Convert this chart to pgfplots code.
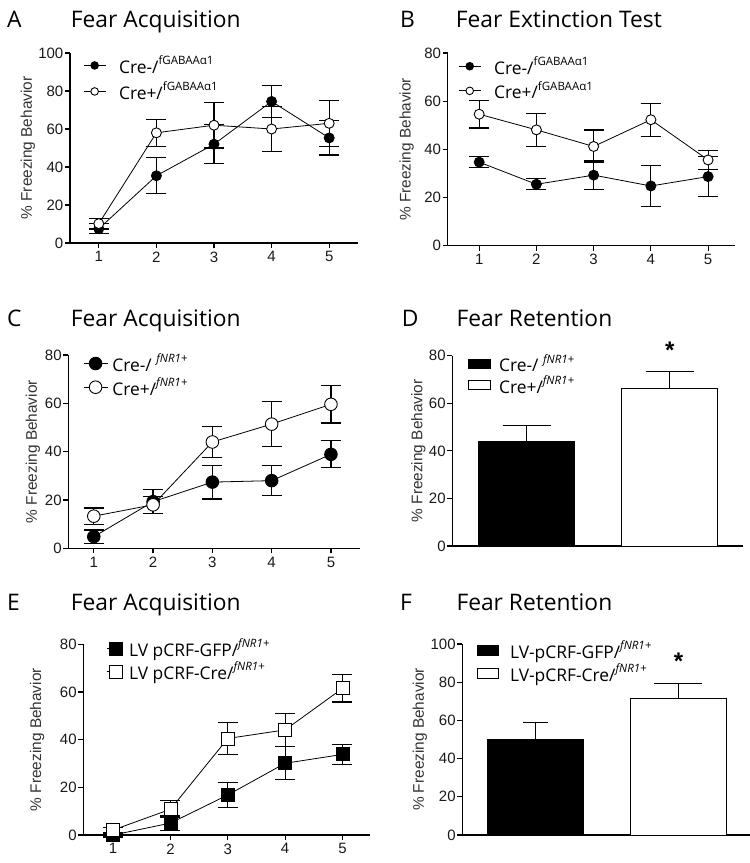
\documentclass[border=0pt]{standalone}
\usepackage{pgfplots}
\usepackage{pgfplotstable}
\pgfplotsset{compat=1.18}
\usepackage{fontspec}
\setmainfont{Liberation Sans}
\newfontfamily\osans{Open Sans}
\newcommand{\supx}[1]{\raisebox{0.5em}{\fontsize{11.5}{12}\selectfont #1}}
\newcommand{\legfont}{\osans\fontsize{17.4}{20}\selectfont}
\newcommand{\titfont}{\osans\fontsize{22.8}{26}\selectfont}

% data: x  mean  sem
\pgfplotstableread{
x y e
1 7.5 2.6
2 35.4 9.5
3 52 10.2
4 74.5 8.3
5 55.3 9
}\Aneg
\pgfplotstableread{
x y e
1 10.2 2.8
2 58 7.2
3 62 12
4 60 12
5 63 12
}\Apos
\pgfplotstableread{
x y e
1 34.7 2.3
2 25.5 2.3
3 29.3 5.9
4 24.8 8.4
5 28.7 8.3
}\Bneg
\pgfplotstableread{
x y e
1 54.6 5.7
2 48.1 6.9
3 41.2 6.8
4 52.3 6.9
5 35.6 3.9
}\Bpos
\pgfplotstableread{
x y e
1 4.8 2.8
2 19.3 5
3 27.4 7
4 28 6.2
5 38.9 5.6
}\Cneg
\pgfplotstableread{
x y e
1 13.3 3.4
2 18 3.5
3 44 6.5
4 51.4 9.3
5 59.6 7.7
}\Cpos
\pgfplotstableread{
x y e
1 0 0.8
2 5 3
3 16.8 5.1
4 30.1 6.9
5 33.8 4.2
}\Egfp
\pgfplotstableread{
x y e
1 2.1 1.2
2 10.8 3.6
3 40.5 6.6
4 44.1 7
5 61.5 5.7
}\Ecre

\pgfplotsset{
  gp/.style={
    scale only axis, anchor=south west,
    axis lines*=left,
    axis line style={line width=1.2pt},
    every tick/.style={line width=1.2pt, black},
    tick align=outside, major tick length=5pt,
    ymin=0, clip=false,
    ylabel={\% Freezing Behavior},
    ylabel style={font=\fontsize{15.4}{16}\selectfont, text=black!80, anchor=center},
    tick label style={font=\fontsize{15}{16}\selectfont, text=black!90},
    yticklabel style={inner sep=1.5pt},
    /pgf/number format/assume math mode=true,
    minor tick num=0,
    legend style={draw=none, fill=none, inner sep=0pt, outer sep=0pt, anchor=north west, font=\legfont},
    legend cell align=left,
  },
  legsep/.style 2 args={legend style={row sep=#1, /tikz/every odd column/.append style={column sep=#2}}},
  lineleg/.style n args={3}{legend image code/.code={\draw[line width=0.8pt,black] (0pt,0pt) -- (#1,0pt); \draw[##1, mark size=#2] plot coordinates {(#3,0pt)};}},
  lineax/.style={gp, xtick={1,2,3,4,5}},
  barax/.style={gp, xtick=\empty},
  barleg/.style 2 args={legend image code/.code={\draw[##1, line width=0.8pt] (0pt,-#2) rectangle (#1,#2);}},
  eb/.style={forget plot, only marks, mark=none,
    error bars/y dir=both, error bars/y explicit,
    error bars/error bar style={line width=1.2pt, draw=black, solid},
    error bars/error mark options={rotate=90, mark size=10pt, line width=1.2pt, draw=black}},
  ser/.style={line width=0.8pt, black, mark=*, mark size=5pt, mark options={solid, fill=#1, line width=0.9pt}},
  sqser/.style={ser=#1, mark=square*, mark size=6.5pt},
  barser/.style 2 args={ybar, bar width=96pt, bar shift=0pt, fill=#1, draw=black, line width=1pt,
    error bars/y dir=plus, error bars/y explicit,
    error bars/error bar style={line width=1.2pt, black},
    error bars/error mark options={rotate=90, mark size=#2, line width=1.2pt, black}},
}
\begin{document}
\begin{tikzpicture}
\path[use as bounding box] (0pt,0pt) rectangle (750pt,-863pt);
% titles
\node[anchor=base west, inner sep=0pt, font=\titfont] at (7pt,-27pt) {A};
\node[anchor=base west, inner sep=0pt, font=\titfont] at (70.7pt,-27pt) {Fear Acquisition};
\node[anchor=base west, inner sep=0pt, font=\titfont] at (400pt,-27pt) {B};
\node[anchor=base west, inner sep=0pt, font=\titfont] at (455.7pt,-27pt) {Fear Extinction Test};
\node[anchor=base west, inner sep=0pt, font=\titfont] at (7pt,-326.7pt) {C};
\node[anchor=base west, inner sep=0pt, font=\titfont] at (70.7pt,-326.7pt) {Fear Acquisition};
\node[anchor=base west, inner sep=0pt, font=\titfont] at (401.7pt,-326.7pt) {D};
\node[anchor=base west, inner sep=0pt, font=\titfont] at (456.3pt,-326.7pt) {Fear Retention};
\node[anchor=base west, inner sep=0pt, font=\titfont] at (7pt,-610pt) {E};
\node[anchor=base west, inner sep=0pt, font=\titfont] at (70.7pt,-610pt) {Fear Acquisition};
\node[anchor=base west, inner sep=0pt, font=\titfont] at (400pt,-610.7pt) {F};
\node[anchor=base west, inner sep=0pt, font=\titfont] at (456.3pt,-610.7pt) {Fear Retention};

% A
\begin{axis}[lineax, at={(70pt,-243pt)}, width=288pt, height=190pt,
  xmin=0.5, xmax=5.5, ymax=100, ytick={0,20,...,100},
  ylabel style={at={(axis description cs:-0.146,0.5)}},
  lineleg={22pt}{3.8pt}{11pt}, legsep={3pt}{11pt},
  legend style={at={(axis description cs:0.046,0.995)}}]
\addplot[eb] table[x=x, y=y, y error=e] {\Aneg};
\addplot[ser=black] table[x=x, y=y] {\Aneg};
\addlegendentry{Cre-/\supx{fGABAAα1}}
\addplot[eb] table[x=x, y=y, y error=e] {\Apos};
\addplot[ser=white] table[x=x, y=y] {\Apos};
\addlegendentry{Cre+/\supx{fGABAAα1}}
\end{axis}

% B
\begin{axis}[lineax, at={(447.7pt,-245.7pt)}, width=287.3pt, height=192.7pt,
  xmin=0.45, xmax=5.47, ymax=80, ytick={0,20,...,80},
  ylabel style={at={(axis description cs:-0.143,0.5)}},
  lineleg={22pt}{3.8pt}{11pt}, legsep={1.6pt}{11pt},
  legend style={at={(axis description cs:0.037,0.991)}}]
\addplot[eb] table[x=x, y=y, y error=e] {\Bneg};
\addplot[ser=black] table[x=x, y=y] {\Bneg};
\addlegendentry{Cre-/\supx{fGABAAα1}}
\addplot[eb] table[x=x, y=y, y error=e] {\Bpos};
\addplot[ser=white] table[x=x, y=y] {\Bpos};
\addlegendentry{Cre+/\supx{fGABAAα1}}
\end{axis}

% C
\begin{axis}[lineax, at={(68.3pt,-548.3pt)}, width=291.7pt, height=193.3pt,
  xmin=0.57, xmax=5.49, ymax=80, ytick={0,20,...,80},
  ylabel style={at={(axis description cs:-0.121,0.5)}},
  lineleg={24pt}{6.3pt}{12pt}, legsep={0.7pt}{2.4pt},
  legend style={at={(axis description cs:0.051,1.0155)}}]
\addplot[eb] table[x=x, y=y, y error=e] {\Cneg};
\addplot[ser=black, mark size=6.3pt] table[x=x, y=y] {\Cneg};
\addlegendentry{Cre-/ \supx{\itshape fNR1+}}
\addplot[eb] table[x=x, y=y, y error=e] {\Cpos};
\addplot[ser=white, mark size=6.3pt] table[x=x, y=y] {\Cpos};
\addlegendentry{Cre+/\supx{\itshape fNR1+}}
\end{axis}

% D
\begin{axis}[barax, at={(452.3pt,-546pt)}, width=290.4pt, height=190.3pt,
  xmin=0.48, xmax=2.51, ymax=80, ytick={0,20,...,80},
  ylabel style={at={(axis description cs:-0.117,0.5)}},
  barleg={22pt}{4.5pt}, legsep={-1.6pt}{6pt},
  legend style={at={(axis description cs:0.055,1.018)}}]
\addplot[barser={black}{24pt}] coordinates {(1,44.1) +- (0,6.6)};
\addlegendentry{Cre-/ \supx{\itshape fNR1+}}
\addplot[barser={white}{24pt}] coordinates {(2,66.1) +- (0,7.4)};
\addlegendentry{Cre+/\supx{\itshape fNR1+}}
\node[font=\bfseries\fontsize{24}{24}\selectfont, inner sep=0pt] at (axis cs:2,82.5) {*};
\end{axis}

% E
\begin{axis}[lineax, at={(83.3pt,-835pt)}, width=286.7pt, height=190.7pt,
  xmin=0.48, xmax=5.48, ymax=80, ytick={0,20,...,80},
  ylabel style={at={(axis description cs:-0.161,0.5)}},
  lineleg={16pt}{6.5pt}{8pt}, legsep={0pt}{3.3pt},
  legend style={at={(axis description cs:0.083,1.038)}}]
\addplot[eb] table[x=x, y=y, y error=e] {\Egfp};
\addplot[sqser=black] table[x=x, y=y] {\Egfp};
\addlegendentry{LV pCRF-GFP/\supx{\itshape fNR1+}}
\addplot[eb] table[x=x, y=y, y error=e] {\Ecre};
\addplot[sqser=white] table[x=x, y=y] {\Ecre};
\addlegendentry{LV pCRF-Cre/\supx{\itshape fNR1+}}
\end{axis}

% F
\begin{axis}[barax, at={(462.3pt,-835pt)}, width=287.7pt, height=191pt,
  xmin=0.49, xmax=2.50, ymax=100, ytick={0,20,...,100},
  ylabel style={at={(axis description cs:-0.147,0.5)}},
  barleg={21.6pt}{5pt}, legsep={0.3pt}{9pt},
  legend style={at={(axis description cs:0.05,1.028)}}]
\addplot[barser={black}{12.5pt}] coordinates {(1,50.1) +- (0,8.9)};
\addlegendentry{LV-pCRF-GFP/\supx{\itshape fNR1+}}
\addplot[barser={white}{24pt}] coordinates {(2,71.7) +- (0,7.7)};
\addlegendentry{LV-pCRF-Cre/\supx{\itshape fNR1+}}
\node[font=\bfseries\fontsize{24}{24}\selectfont, inner sep=0pt] at (axis cs:2,91) {*};
\end{axis}
\end{tikzpicture}
\end{document}
